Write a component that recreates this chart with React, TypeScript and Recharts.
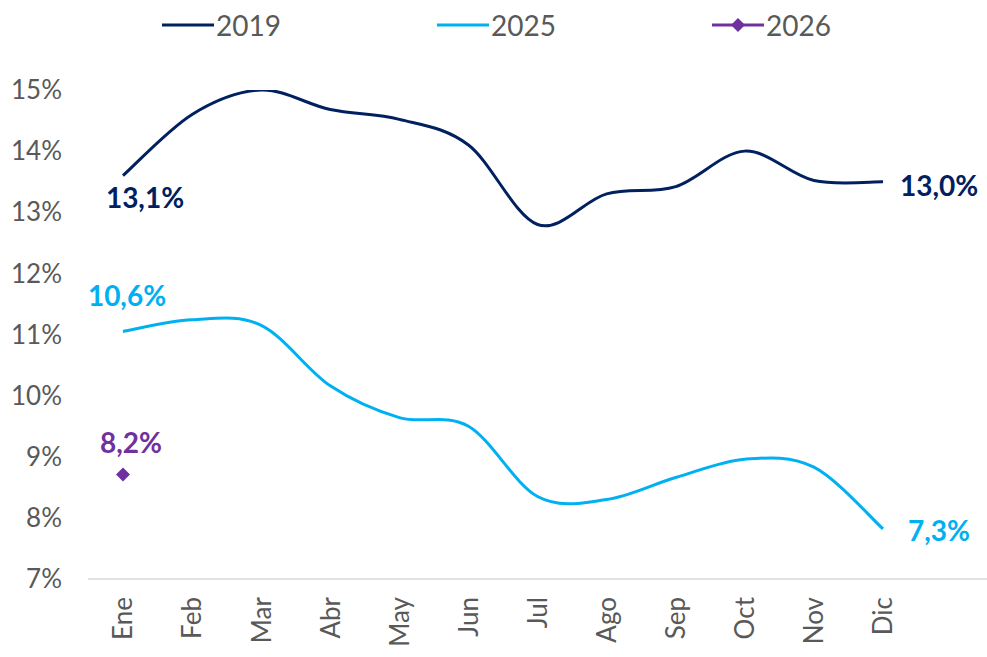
import { LineChart, Line, XAxis, YAxis, Legend, LabelList } from 'recharts';

const months = ['Ene', 'Feb', 'Mar', 'Abr', 'May', 'Jun', 'Jul', 'Ago', 'Sep', 'Oct', 'Nov', 'Dic'];
const values2019 = [13.6, 14.6, 15.0, 14.68, 14.52, 14.1, 12.8, 13.3, 13.42, 14.0, 13.52, 13.5];
const values2025 = [11.05, 11.24, 11.15, 10.16, 9.64, 9.5, 8.35, 8.3, 8.66, 8.96, 8.83, 7.82];
const values2026 = [8.71, null, null, null, null, null, null, null, null, null, null, null];
const labels2019 = ['13,1%', '', '', '', '', '', '', '', '', '', '', '13,0%'];
const labels2025 = ['10,6%', '', '', '', '', '', '', '', '', '', '', '7,3%'];
const labels2026 = ['8,2%', '', '', '', '', '', '', '', '', '', '', ''];
const yTicks = [7, 8, 9, 10, 11, 12, 13, 14, 15];

const data = months.map((m, i) => ({
  month: m,
  y2019: values2019[i],
  y2025: values2025[i],
  y2026: values2026[i],
  l2019: labels2019[i],
  l2025: labels2025[i],
  l2026: labels2026[i],
}));

const FONT = 'Lato, sans-serif';
const GREY = '#595959';
const C2019 = '#002060';
const C2025 = '#00B0F0';
const C2026 = '#7030A0';

// excel-like smoothing (catmull-rom through the points)
const smoothCurve = (context: any) => {
  let pts: number[][] = [];
  return {
    areaStart() {},
    areaEnd() {},
    lineStart() {
      pts = [];
    },
    point(x: number, y: number) {
      pts.push([+x, +y]);
    },
    lineEnd() {
      if (!pts.length) return;
      context.moveTo(pts[0][0], pts[0][1]);
      for (let i = 0; i < pts.length - 1; i++) {
        const p0 = pts[i - 1] || pts[i];
        const p1 = pts[i];
        const p2 = pts[i + 1];
        const p3 = pts[i + 2] || p2;
        context.bezierCurveTo(
          p1[0] + (p2[0] - p0[0]) / 6,
          p1[1] + (p2[1] - p0[1]) / 6,
          p2[0] - (p3[0] - p1[0]) / 6,
          p2[1] - (p3[1] - p1[1]) / 6,
          p2[0],
          p2[1]
        );
      }
    },
  };
};

// label placement relative to the point: first / last point of each series
const labelPos: Record<string, { first: [number, number, string]; last: [number, number, string] }> = {
  y2019: { first: [22, 22, 'middle'], last: [17, 4, 'start'] },
  y2025: { first: [4, -36, 'middle'], last: [25, 2, 'start'] },
  y2026: { first: [8, -32, 'middle'], last: [0, 0, 'start'] },
};

const makeLabel = (key: string, color: string) => (props: any) => {
  const { x, y, value, index } = props;
  if (!value) return null;
  const pos = index === 0 ? labelPos[key].first : labelPos[key].last;
  return (
    <text
      x={x + pos[0]}
      y={y + pos[1]}
      dy="0.36em"
      textAnchor={pos[2]}
      fill={color}
      fontFamily={FONT}
      fontWeight={700}
      fontSize={28}
    >
      {value}
    </text>
  );
};

const MonthTick = ({ x, y, payload }: any) => (
  <text
    x={x}
    y={y + 16}
    dy="0.36em"
    transform={`rotate(-90, ${x}, ${y + 16})`}
    textAnchor="end"
    fill={GREY}
    fontFamily={FONT}
    fontSize={26}
  >
    {payload.value}
  </text>
);

const legendItems = [
  { name: '2019', color: C2019, diamond: false },
  { name: '2025', color: C2025, diamond: false },
  { name: '2026', color: C2026, diamond: true },
];

const LegendContent = () => (
  <div style={{ position: 'relative', height: 50, width: 987 }}>
    {legendItems.map((it, i) => (
      <div
        key={it.name}
        style={{
          position: 'absolute',
          left: 162 + i * 275,
          top: 8,
          display: 'flex',
          alignItems: 'center',
          fontFamily: FONT,
          fontSize: 28,
          color: GREY,
        }}
      >
        <svg width={54} height={30}>
          <line x1={0} y1={15} x2={52} y2={15} stroke={it.color} strokeWidth={3} />
          {it.diamond && <polygon points="26,8 33,15 26,22 19,15" fill={it.color} />}
        </svg>
        <span>{it.name}</span>
      </div>
    ))}
  </div>
);

const Diamond = ({ cx, cy, value }: any) => {
  if (value == null || cx == null) return null;
  return <polygon points={`${cx},${cy - 7} ${cx + 7},${cy} ${cx},${cy + 7} ${cx - 7},${cy}`} fill={C2026} />;
};

export default function App() {
  return (
    <div style={{ position: 'absolute', left: 0, top: 0, background: '#fff' }}>
      <LineChart width={987} height={657} data={data} margin={{ top: 40, right: 0, bottom: 0, left: 0 }}>
        <Legend
          verticalAlign="top"
          align="left"
          height={50}
          wrapperStyle={{ top: 0, left: 0 }}
          content={<LegendContent />}
        />
        <XAxis
          dataKey="month"
          padding={{ left: 35, right: 104 }}
          height={78}
          axisLine={{ stroke: '#d9d9d9', strokeWidth: 1.5 }}
          tickLine={false}
          tickSize={0}
          tick={<MonthTick />}
          interval={0}
        />
        <YAxis
          width={88}
          domain={[7, 15]}
          ticks={yTicks}
          axisLine={false}
          tickLine={false}
          tickSize={0}
          tickMargin={26}
          tick={{ fill: GREY, fontFamily: FONT, fontSize: 26 }}
          tickFormatter={(v: number) => `${v}%`}
          allowDataOverflow
        />
        <Line
          dataKey="y2019"
          stroke={C2019}
          strokeWidth={3}
          type={smoothCurve as any}
          dot={false}
          activeDot={false}
          isAnimationActive={false}
        >
          <LabelList dataKey="l2019" content={makeLabel('y2019', C2019)} />
        </Line>
        <Line
          dataKey="y2025"
          stroke={C2025}
          strokeWidth={3}
          type={smoothCurve as any}
          dot={false}
          activeDot={false}
          isAnimationActive={false}
        >
          <LabelList dataKey="l2025" content={makeLabel('y2025', C2025)} />
        </Line>
        <Line
          dataKey="y2026"
          stroke={C2026}
          strokeWidth={3}
          dot={<Diamond />}
          activeDot={false}
          isAnimationActive={false}
        >
          <LabelList dataKey="l2026" content={makeLabel('y2026', C2026)} />
        </Line>
      </LineChart>
    </div>
  );
}
